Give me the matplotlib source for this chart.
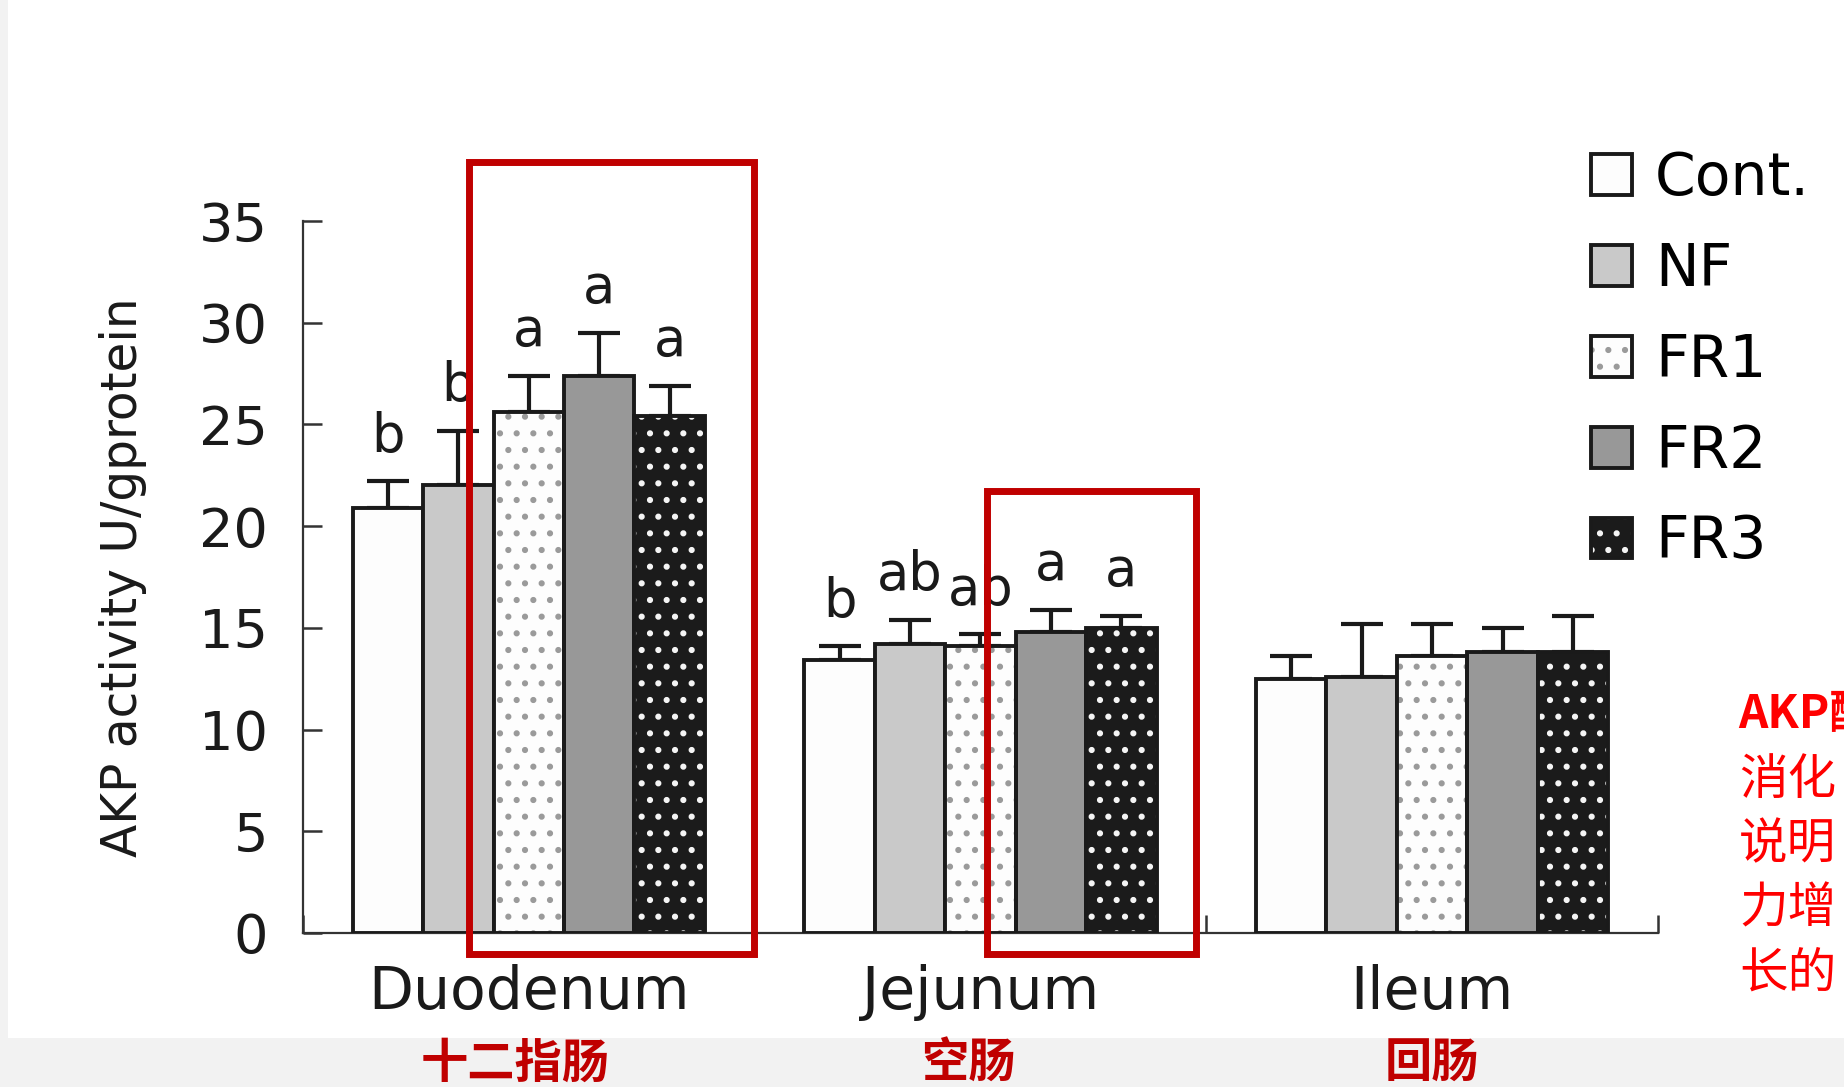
import numpy as np
import matplotlib
matplotlib.use("Agg")
import matplotlib.pyplot as plt
from matplotlib.patches import Patch, Rectangle
from matplotlib.ticker import FixedLocator, NullFormatter

plt.rcParams['font.family'] = ['DejaVu Sans', 'Noto Sans CJK SC']
plt.rcParams['hatch.linewidth'] = 2.0

# intestinal segments and treatment groups
segments = ['Duodenum', 'Jejunum', 'Ileum']
segments_cn = ['十二指肠', '空肠', '回肠']
groups = ['Cont.', 'NF', 'FR1', 'FR2', 'FR3']

# AKP activity (U/g protein), mean and SE per group
cont = [20.9, 13.4, 12.5]
nf = [22.0, 14.2, 12.6]
fr1 = [25.6, 14.1, 13.6]
fr2 = [27.4, 14.8, 13.8]
fr3 = [25.4, 15.0, 13.8]
cont_err = [1.3, 0.7, 1.1]
nf_err = [2.7, 1.2, 2.6]
fr1_err = [1.8, 0.6, 1.6]
fr2_err = [2.1, 1.1, 1.2]
fr3_err = [1.5, 0.6, 1.8]

# significance letters (Ileum: no differences)
letters = [['b', 'b', 'a', 'a', 'a'],
           ['b', 'ab', 'ab', 'a', 'a'],
           ['', '', '', '', '']]

means = [cont, nf, fr1, fr2, fr3]
errs = [cont_err, nf_err, fr1_err, fr2_err, fr3_err]

# fill / dot styles for each group
faces = ['#fdfdfd', '#c9c9c9', '#fdfdfd', '#989898', '#1b1b1b']
hatches = [None, None, '.', None, '.']
dot_colors = [None, None, '#9a9a9a', None, '#f4f4f4']

fig = plt.figure(figsize=(18.44, 10.87), dpi=100, facecolor='#f2f2f2')
# white panel behind the chart
fig.add_artist(Rectangle((8 / 1844, 49 / 1087), 1, 1, transform=fig.transFigure,
                         facecolor='white', edgecolor='none', zorder=0))

ax = fig.add_axes([0.1643, 0.1417, 0.7348, 0.6550])
ax.patch.set_visible(False)

x = np.arange(len(segments))
width = 0.156
handles = []
for i, g in enumerate(groups):
    pos = x + (i - 2) * width
    ax.errorbar(pos, means[i], yerr=[np.zeros(len(x)), errs[i]], fmt='none',
                ecolor='#1a1a1a', elinewidth=3, capsize=15, capthick=3, zorder=2)
    if hatches[i]:
        ax.bar(pos, means[i], width, color=faces[i], hatch=hatches[i],
               edgecolor=dot_colors[i], linewidth=0, zorder=3)
        ax.bar(pos, means[i], width, fill=False, edgecolor='#1a1a1a',
               linewidth=2.8, zorder=4)
        handles.append((Patch(facecolor=faces[i], hatch=hatches[i],
                              edgecolor=dot_colors[i], linewidth=0),
                        Patch(fill=False, edgecolor='#1a1a1a', linewidth=2.8)))
    else:
        ax.bar(pos, means[i], width, color=faces[i], edgecolor='#1a1a1a',
               linewidth=2.8, zorder=3)
        handles.append(Patch(facecolor=faces[i], edgecolor='#1a1a1a', linewidth=2.8))
    # letters above error bars
    for j in range(len(x)):
        if letters[j][i]:
            ax.text(pos[j], means[i][j] + errs[i][j] + 1.45, letters[j][i],
                    ha='center', va='baseline', fontsize=38, color='#1a1a1a')

ax.set_xlim(-0.5, 2.5)
ax.set_ylim(0, 35)
ax.set_yticks(np.arange(0, 36, 5))
ax.spines['top'].set_visible(False)
ax.spines['right'].set_visible(False)
for s in ['left', 'bottom']:
    ax.spines[s].set_linewidth(1.6)
    ax.spines[s].set_color('#333333')

ax.tick_params(axis='y', direction='in', length=14, width=1.8, pad=25,
               labelsize=39, colors='#333333', labelcolor='#1a1a1a')
# boundaries between segments as ticks, names centred on the groups
ax.xaxis.set_major_locator(FixedLocator([-0.5, 0.5, 1.5, 2.5]))
ax.xaxis.set_major_formatter(NullFormatter())
ax.xaxis.set_minor_locator(FixedLocator(x))
ax.set_xticklabels(segments, minor=True)
ax.tick_params(axis='x', which='major', direction='in', length=13, width=1.8,
               colors='#333333')
ax.tick_params(axis='x', which='minor', length=0, pad=22, labelsize=42,
               labelcolor='#1a1a1a')

ax.set_ylabel('AKP activity U/gprotein', fontsize=35, color='#1a1a1a')
ax.yaxis.set_label_coords(-0.115, 0.5)

fig.legend(handles, groups, loc='upper left', bbox_to_anchor=(0.8628, 0.862),
           frameon=False, fontsize=42, handlelength=0.7, handleheight=0.7,
           handletextpad=0.4, labelspacing=0.58, borderpad=0, borderaxespad=0)

# highlight boxes
for (x0, y0, x1, y1) in [(469, 162, 754, 954), (987, 491, 1196, 954)]:
    fig.add_artist(Rectangle((x0 / 1844, 1 - y1 / 1087), (x1 - x0) / 1844,
                             (y1 - y0) / 1087, transform=fig.transFigure,
                             fill=False, edgecolor='#c00000', linewidth=5, zorder=10))

# Chinese names under the panel
cjk = ['Noto Sans CJK SC', 'DejaVu Sans']
for name, fx in zip(segments_cn, [0.2793, 0.525, 0.7766]):
    fig.text(fx, 0.021, name, ha='center', va='center', fontsize=34,
             color='#c00000', family=cjk, fontweight='bold')

# side note, runs off the right edge
fig.text(1738 / 1844, 1 - 715 / 1087, 'AKP酶', ha='left', va='center', fontsize=33,
         color='#ff0000', family=cjk, fontweight='bold')
for k, line in enumerate(['消化', '说明', '力增', '长的']):
    fig.text(1739 / 1844, 1 - (780 + 64.5 * k) / 1087, line, ha='left', va='center',
             fontsize=35, color='#ff0000', family=cjk)

fig.savefig('out.png', dpi=100, facecolor=fig.get_facecolor())
